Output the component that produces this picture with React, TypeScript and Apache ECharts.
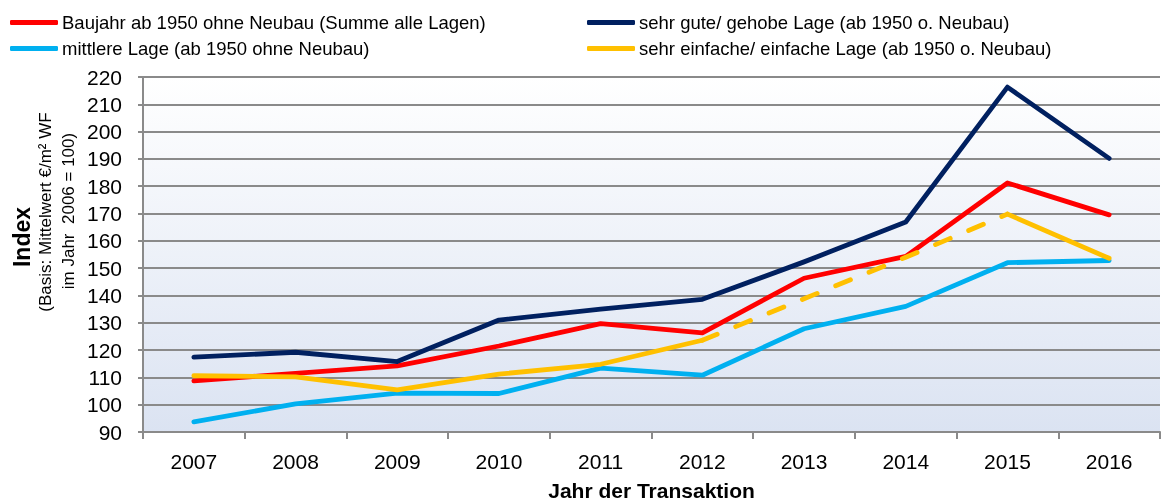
import React, { useEffect, useRef } from "react";
import * as echarts from "echarts";

const years = ["2007", "2008", "2009", "2010", "2011", "2012", "2013", "2014", "2015", "2016"];
const redName = "Baujahr ab 1950 ohne Neubau (Summe alle Lagen)";
const navyName = "sehr gute/ gehobe Lage (ab 1950 o. Neubau)";
const blueName = "mittlere Lage (ab 1950 ohne Neubau)";
const yellowName = "sehr einfache/ einfache Lage (ab 1950 o. Neubau)";

const redValues = [108.7, 111.5, 114.2, 121.5, 129.7, 126.3, 146.3, 154.3, 181.2, 169.5];
const navyValues = [117.4, 119.2, 115.8, 131.0, 135.0, 138.6, 152.3, 166.9, 216.3, 190.2];
const blueValues = [93.7, 100.3, 104.2, 104.1, 113.4, 110.8, 127.8, 136.0, 152.0, 152.8];
const yellowSolid = [110.6, 110.2, 105.4, 111.2, 114.8, 123.6, null, null, 169.8, 153.6];
const yellowDashed = [null, null, null, null, null, 123.6, 138.8, 154.0, 169.8, null];

const yTitle = "Index";
const yTitle2 = "(Basis: Mittelwert €/m² WF";
const yTitle3 = "im Jahr  2006 = 100)";
const xTitle = "Jahr der Transaktion";

const FONT = "Liberation Sans, Arial, sans-serif";

export default function App() {
  const ref = useRef<HTMLDivElement>(null);
  useEffect(() => {
    if (!ref.current) return;
    const chart = echarts.init(ref.current, undefined, { renderer: "svg" });
    const lineSeries = (name: string, data: (number | null)[], color: string, dashed = false) => ({
      name,
      type: "line",
      data,
      symbol: "none",
      showSymbol: false,
      connectNulls: false,
      lineStyle: { color, width: 4.8, type: dashed ? [16, 20] : "solid", cap: "round", join: "round" },
      itemStyle: { color },
    });
    const legendCommon = {
      orient: "vertical",
      top: 8,
      itemWidth: 48,
      itemHeight: 5,
      itemGap: 7,
      icon: "roundRect",
      textStyle: { fontFamily: FONT, fontSize: 18.5, color: "#000", padding: [0, 0, 0, -1] },
    };
    chart.setOption({
      animation: false,
      textStyle: { fontFamily: FONT },
      legend: [
        { ...legendCommon, left: 5, data: [redName, blueName] },
        { ...legendCommon, left: 582, data: [navyName, yellowName] },
      ],
      grid: {
        left: 143,
        right: 1,
        top: 77,
        bottom: 71,
        outerBoundsMode: "none",
        containLabel: false,
        show: true,
        borderWidth: 0,
        backgroundColor: new echarts.graphic.LinearGradient(0, 0, 0, 1, [
          { offset: 0, color: "#ffffff" },
          { offset: 1, color: "#dbe3f2" },
        ]),
      },
      xAxis: {
        type: "category",
        data: years,
        boundaryGap: true,
        name: xTitle,
        nameLocation: "middle",
        nameGap: 48,
        nameTextStyle: { fontFamily: FONT, fontSize: 21, fontWeight: "bold", color: "#000" },
        axisLine: { lineStyle: { color: "#8a8a8a", width: 2 } },
        axisTick: { show: true, length: 7, lineStyle: { color: "#8a8a8a", width: 2 } },
        axisLabel: { fontFamily: FONT, fontSize: 21, color: "#000", margin: 19 },
      },
      yAxis: {
        type: "value",
        min: 90,
        max: 220,
        interval: 10,
        axisLine: { show: true, lineStyle: { color: "#8a8a8a", width: 2 } },
        axisTick: { show: true, length: 5, lineStyle: { color: "#8a8a8a", width: 2 } },
        axisLabel: { fontFamily: FONT, fontSize: 21, color: "#000", margin: 21 },
        splitLine: { show: true, lineStyle: { color: "#8a8a8a", width: 2 } },
      },
      graphic: [
        {
          type: "text",
          x: 22,
          y: 237,
          rotation: Math.PI / 2,
          style: { text: yTitle, font: `bold 23px ${FONT}`, fill: "#000", textAlign: "center", textVerticalAlign: "middle" },
        },
        {
          type: "text",
          x: 45,
          y: 212,
          rotation: Math.PI / 2,
          style: { text: yTitle2, font: `17px ${FONT}`, fill: "#000", textAlign: "center", textVerticalAlign: "middle" },
        },
        {
          type: "text",
          x: 68,
          y: 211,
          rotation: Math.PI / 2,
          style: { text: yTitle3, font: `17px ${FONT}`, fill: "#000", textAlign: "center", textVerticalAlign: "middle" },
        },
      ],
      series: [
        lineSeries(redName, redValues, "#ff0000"),
        lineSeries(navyName, navyValues, "#002060"),
        lineSeries(blueName, blueValues, "#00b0f0"),
        lineSeries(yellowName, yellowSolid, "#ffc000"),
        lineSeries(yellowName, yellowDashed, "#ffc000", true),
      ],
    });
    return () => chart.dispose();
  }, []);
  return <div ref={ref} style={{ width: 1161, height: 503, position: "fixed", left: 0, top: 0 }} />;
}
